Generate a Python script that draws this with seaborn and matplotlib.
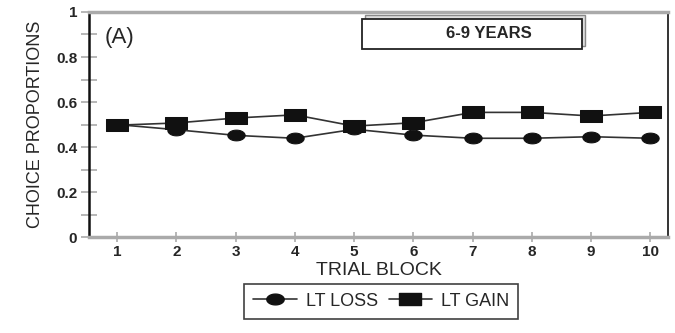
import numpy as np
import pandas as pd
import matplotlib
matplotlib.use("Agg")
import matplotlib.pyplot as plt
from matplotlib.path import Path
from matplotlib.patches import Rectangle
from matplotlib.lines import Line2D
import seaborn as sns

blocks = [1, 2, 3, 4, 5, 6, 7, 8, 9, 10]
lt_loss = [0.50, 0.477, 0.452, 0.439, 0.479, 0.453, 0.439, 0.439, 0.446, 0.439]
lt_gain = [0.497, 0.507, 0.529, 0.543, 0.493, 0.508, 0.554, 0.554, 0.538, 0.554]
series_names = ["LT LOSS", "LT GAIN"]
yticks = [0, 0.2, 0.4, 0.6, 0.8, 1]
ytick_labels = ["0", "0.2", "0.4", "0.6", "0.8", "1"]

sns.set_style("white")
font = ["Liberation Sans", "DejaVu Sans"]
plt.rcParams["font.family"] = font

df = pd.DataFrame({
    "block": blocks * 2,
    "value": lt_loss + lt_gain,
    "series": [series_names[0]] * len(blocks) + [series_names[1]] * len(blocks),
})

# wide, flat markers
t = np.linspace(0, 2 * np.pi, 40)
ellipse = Path(np.column_stack([np.cos(t), 0.62 * np.sin(t)]), closed=True)
rect = Path([(-1, -0.58), (1, -0.58), (1, 0.58), (-1, 0.58), (-1, -0.58)], closed=True)

fig = plt.figure(figsize=(6.75, 3.33), dpi=100)
ax = fig.add_axes([0.132, 0.288, 0.858, 0.676])

sns.lineplot(data=df[df.series == series_names[0]], x="block", y="value",
             ax=ax, color="#111111", marker=ellipse, markersize=12.5,
             markeredgecolor="#111111", linewidth=1.2, legend=False)
sns.lineplot(data=df[df.series == series_names[1]], x="block", y="value",
             ax=ax, color="#111111", marker=rect, markersize=15.5,
             markeredgecolor="#111111", linewidth=1.2, legend=False)
for l in ax.lines:
    l.set_color("#333333")
    l.set_markerfacecolor("#111111")
    l.set_markeredgecolor("#111111")

ax.set_xlim(0.527, 10.3)
ax.set_ylim(0, 1)
ax.set_xticks(blocks)
ax.set_xticklabels([str(b) for b in blocks], fontsize=11, fontweight="bold")
ax.set_yticks(yticks)
ax.set_yticklabels(ytick_labels, fontsize=11, fontweight="bold")
ax.set_yticks([0.1, 0.3, 0.5, 0.7, 0.9], minor=True)
ax.tick_params(axis="y", which="both", direction="inout", length=11, width=1.2,
               color="#aaaaaa", left=True, pad=3)
ax.tick_params(axis="x", which="major", direction="inout", length=7, width=1.2,
               color="#aaaaaa", bottom=True, pad=2)

ax.set_xlabel("TRIAL BLOCK", fontsize=14, labelpad=2)
ax.set_ylabel("CHOICE PROPORTIONS", fontsize=13, labelpad=9)

for s in ["top", "bottom"]:
    ax.spines[s].set_color("#aaaaaa")
    ax.spines[s].set_linewidth(2.5)
ax.spines["left"].set_color("#111111")
ax.spines["left"].set_linewidth(1.8)
ax.spines["right"].set_color("#111111")
ax.spines["right"].set_linewidth(1.2)

ax.text(0.026, 0.935, "(A)", transform=ax.transAxes, fontsize=16,
        ha="left", va="top")

# label box with shadow
ax.add_patch(Rectangle((5.19, 0.85), 3.7, 0.135, facecolor="#dddddd",
                       edgecolor="#888888", linewidth=1.0, zorder=3,
                       clip_on=False))
ax.add_patch(Rectangle((5.14, 0.836), 3.7, 0.135, facecolor="white",
                       edgecolor="#222222", linewidth=1.3, zorder=4,
                       clip_on=False))
ax.text(7.27, 0.903, "6-9 YEARS", fontsize=12, fontweight="bold",
        ha="center", va="center", zorder=5)

handles = [
    Line2D([], [], color="#333333", lw=1.2, marker=ellipse, markersize=12.5,
           markerfacecolor="#111111", markeredgecolor="#111111"),
    Line2D([], [], color="#333333", lw=1.2, marker=rect, markersize=15.5,
           markerfacecolor="#111111", markeredgecolor="#111111"),
]
leg = fig.legend(handles, series_names, loc="upper center",
                 bbox_to_anchor=(0.565, 0.175), ncol=2, fontsize=13,
                 frameon=True, fancybox=False, handlelength=2.4,
                 columnspacing=0.6, handletextpad=0.5, borderpad=0.5)
leg.get_frame().set_edgecolor("#111111")
leg.get_frame().set_linewidth(1.2)

fig.savefig("out.png", dpi=100)
